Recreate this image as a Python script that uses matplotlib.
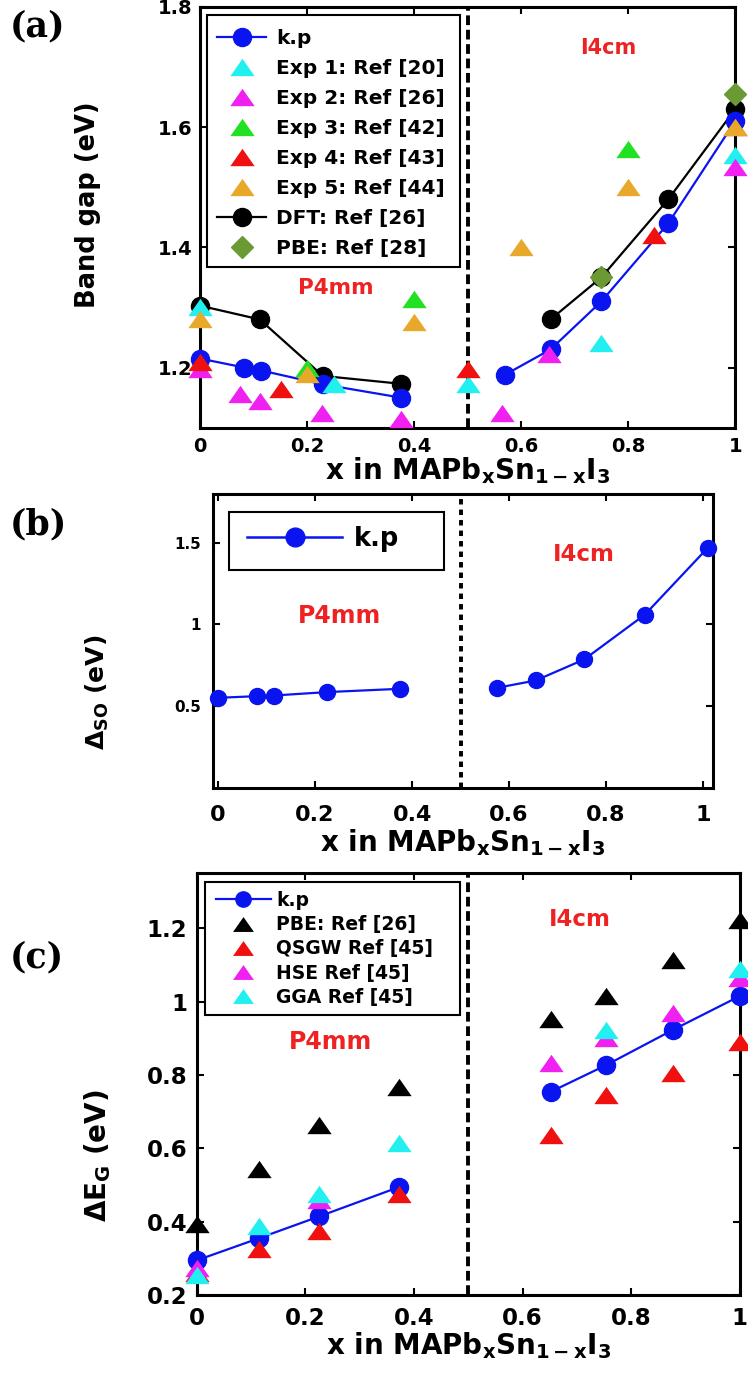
import matplotlib
matplotlib.use('Agg')
import numpy as np
import matplotlib.pyplot as plt
from matplotlib.lines import Line2D
from matplotlib.patches import Rectangle

plt.rcParams['font.family'] = ['DejaVu Sans']
plt.rcParams['font.weight'] = 'bold'
plt.rcParams['mathtext.fontset'] = 'custom'
plt.rcParams['mathtext.rm'] = 'DejaVu Sans'
plt.rcParams['mathtext.bf'] = 'DejaVu Sans:bold'
plt.rcParams['mathtext.it'] = 'DejaVu Sans:bold'
plt.rcParams['mathtext.default'] = 'bf'

# ---- panel (a): band gap ----
kp_a_x = [0, 0.083, 0.115, 0.23, 0.375, 0.57, 0.655, 0.75, 0.875, 1.0]
kp_a_y = [1.215, 1.20, 1.195, 1.172, 1.15, 1.188, 1.23, 1.31, 1.44, 1.61]
dft_x = [0, 0.112, 0.23, 0.375, 0.655, 0.75, 0.875, 1.0]
dft_y = [1.303, 1.28, 1.186, 1.173, 1.28, 1.35, 1.48, 1.63]
exp1_x = [0, 0.25, 0.5, 0.75, 1.0]
exp1_y = [1.30, 1.172, 1.172, 1.24, 1.553]
exp2_x = [0, 0.076, 0.112, 0.228, 0.375, 0.565, 0.652, 1.0]
exp2_y = [1.197, 1.156, 1.144, 1.125, 1.114, 1.125, 1.222, 1.533]
exp3_x = [0.2, 0.4, 0.8]
exp3_y = [1.2, 1.314, 1.564]
exp4_x = [0, 0.152, 0.5, 0.848, 1.0]
exp4_y = [1.21, 1.164, 1.197, 1.42, 1.60]
exp5_x = [0, 0.2, 0.4, 0.6, 0.8, 1.0]
exp5_y = [1.28, 1.19, 1.275, 1.40, 1.50, 1.60]
pbe28_x = [0.75, 1.0]
pbe28_y = [1.35, 1.655]

# ---- panel (b): spin-orbit splitting ----
so_x = [0, 0.08, 0.115, 0.225, 0.375, 0.575, 0.655, 0.755, 0.88, 1.01]
so_y = [0.551, 0.561, 0.565, 0.586, 0.606, 0.612, 0.657, 0.786, 1.06, 1.47]

# ---- panel (c): delta E_G ----
c_x = [0, 0.114, 0.226, 0.373, 0.653, 0.754, 0.877, 1.0]
kp_c = [0.295, 0.355, 0.415, 0.495, 0.755, 0.827, 0.923, 1.015]
pbe_c = [0.395, 0.545, 0.664, 0.768, 0.952, 1.014, 1.114, 1.223]
qsgw_c = [0.26, 0.327, 0.375, 0.477, 0.636, 0.745, 0.806, 0.89]
hse_x = [0, 0.226, 0.653, 0.754, 0.877, 1.0]
hse_c = [0.273, 0.46, 0.832, 0.9, 0.968, 1.064]
gga_x = [0, 0.114, 0.226, 0.373, 0.754, 1.0]
gga_c = [0.255, 0.39, 0.477, 0.614, 0.923, 1.09]

BLUE = '#0a14f0'
CYAN = '#22f0f0'
MAG = '#f020f0'
GREEN = '#22e022'
RED = '#f01010'
ORANGE = '#e8a92a'
OLIVE = '#6b9a34'
TXTRED = '#ee2222'

# MATLAB's up-triangle is wider than it is tall
TRI = [(-1.4, -1), (1.4, -1), (0, 1), (-1.4, -1)]
TRI_MS = 17.5
DOT_MS = 13

xlabel = r'x in MAPb$_\mathbf{x}$Sn$_\mathbf{1-x}$I$_\mathbf{3}$'


def style_axes(ax, tick_fs, xpad, ypad):
    for s in ax.spines.values():
        s.set_linewidth(2.2)
    ax.tick_params(direction='in', top=True, right=True, length=5, width=1.5,
                   labelsize=tick_fs)
    ax.tick_params(axis='x', pad=xpad)
    ax.tick_params(axis='y', pad=ypad)
    for lab in ax.get_xticklabels() + ax.get_yticklabels():
        lab.set_fontweight('bold')


def split_plot(ax, x, y, color, ms, z):
    x = np.array(x)
    y = np.array(y)
    for m in (x < 0.5, x > 0.5):
        ax.plot(x[m], y[m], '-o', color=color, lw=1.6, ms=ms, clip_on=False, zorder=z)


def tri_plot(ax, x, y, color):
    ax.plot(x, y, marker=TRI, ls='none', ms=TRI_MS, color=color, mew=0,
            clip_on=False, zorder=4)


def tri_handle(color, ms=TRI_MS):
    return Line2D([], [], color=color, marker=TRI, ms=ms, mew=0, ls='none')


def legend_box(ax, x0, y0, x1, y1):
    # MATLAB-like legend frame (wide right margin), drawn in axes coords
    r = Rectangle((x0, y0), x1 - x0, y1 - y0, transform=ax.transAxes,
                  facecolor='white', edgecolor='black', lw=1.5, zorder=9)
    ax.add_patch(r)


def fmt(v, pos):
    return ('%g' % v)


fig = plt.figure(figsize=(7.48, 13.75), dpi=100)

# ===== (a) =====
ax = fig.add_axes([0.267, 0.689, 0.716, 0.306])
split_plot(ax, dft_x, dft_y, 'black', DOT_MS, 3)
split_plot(ax, kp_a_x, kp_a_y, BLUE, DOT_MS, 3.5)
tri_plot(ax, exp1_x, exp1_y, CYAN)
tri_plot(ax, exp2_x, exp2_y, MAG)
tri_plot(ax, exp3_x, exp3_y, GREEN)
tri_plot(ax, exp4_x, exp4_y, RED)
tri_plot(ax, exp5_x, exp5_y, ORANGE)
ax.plot(pbe28_x, pbe28_y, 'D', color=OLIVE, ms=11, clip_on=False, zorder=5)
ax.axvline(0.5, color='black', lw=2.8, dashes=(2.5, 1.2), zorder=2)
ax.set_xlim(0, 1)
ax.set_ylim(1.1, 1.8)
ax.set_yticks([1.2, 1.4, 1.6, 1.8])
ax.set_xticks([0, 0.2, 0.4, 0.6, 0.8, 1])
ax.xaxis.set_major_formatter(plt.FuncFormatter(fmt))
ax.set_ylabel('Band gap (eV)', fontsize=18.5, fontweight='bold')
ax.yaxis.set_label_coords(-0.185, 0.53)
ax.set_xlabel(xlabel, fontsize=20, fontweight='bold', labelpad=0)
ax.text(0.254, 1.333, 'P4mm', color=TXTRED, fontsize=15.5, fontweight='bold',
        ha='center', va='center')
ax.text(0.763, 1.731, 'I4cm', color=TXTRED, fontsize=15, fontweight='bold',
        ha='center', va='center')
handles_a = [
    Line2D([], [], color=BLUE, marker='o', ms=DOT_MS, lw=1.6),
    tri_handle(CYAN), tri_handle(MAG), tri_handle(GREEN),
    tri_handle(RED), tri_handle(ORANGE),
    Line2D([], [], color='black', marker='o', ms=DOT_MS, lw=1.6),
    Line2D([], [], color=OLIVE, marker='D', ms=11, ls='none'),
]
labels_a = ['k.p', 'Exp 1: Ref [20]', 'Exp 2: Ref [26]', 'Exp 3: Ref [42]',
            'Exp 4: Ref [43]', 'Exp 5: Ref [44]', 'DFT: Ref [26]', 'PBE: Ref [28]']
legend_box(ax, 0.013, 0.382, 0.486, 0.981)
leg = ax.legend(handles_a, labels_a, loc='upper left', bbox_to_anchor=(0.033, 0.948),
                borderaxespad=0, frameon=False, borderpad=0,
                prop={'size': 14.5, 'weight': 'bold'}, handlelength=2.4,
                labelspacing=0.55, handletextpad=0.5)
leg.set_zorder(10)
style_axes(ax, 14, 6.5, 5.5)

# ===== (b) =====
ax = fig.add_axes([0.285, 0.427, 0.668, 0.214])
split_plot(ax, so_x, so_y, BLUE, 11.5, 3)
ax.axvline(0.5, color='black', lw=2.8, dashes=(1.4, 1.3), zorder=2)
ax.set_xlim(-0.01, 1.02)
ax.set_ylim(0, 1.8)
ax.set_yticks([0.5, 1, 1.5])
ax.set_xticks([0, 0.2, 0.4, 0.6, 0.8, 1])
ax.xaxis.set_major_formatter(plt.FuncFormatter(fmt))
ax.yaxis.set_major_formatter(plt.FuncFormatter(fmt))
ax.set_ylabel(r'$\mathrm{\Delta}_\mathbf{SO}$ (eV)', fontsize=18, fontweight='bold')
ax.yaxis.set_label_coords(-0.205, 0.325)
ax.set_xlabel(xlabel, fontsize=20, fontweight='bold', labelpad=2)
ax.text(0.25, 1.05, 'P4mm', color=TXTRED, fontsize=17, fontweight='bold',
        ha='center', va='center')
ax.text(0.755, 1.43, 'I4cm', color=TXTRED, fontsize=16.5, fontweight='bold',
        ha='center', va='center')
legend_box(ax, 0.032, 0.740, 0.462, 0.937)
leg = ax.legend([Line2D([], [], color=BLUE, marker='o', ms=13.5, lw=1.8)], ['k.p'],
                loc='upper left', bbox_to_anchor=(0.068, 0.889), borderaxespad=0,
                frameon=False, borderpad=0,
                prop={'size': 18.5, 'weight': 'bold'}, handlelength=3.7,
                handletextpad=0.45)
leg.set_zorder(10)
style_axes(ax, 16, 12, 9)
ax.tick_params(axis='y', labelsize=11)

# ===== (c) =====
ax = fig.add_axes([0.263, 0.058, 0.726, 0.307])
split_plot(ax, c_x, kp_c, BLUE, DOT_MS, 3)
tri_plot(ax, c_x, pbe_c, 'black')
tri_plot(ax, c_x, qsgw_c, RED)
tri_plot(ax, hse_x, hse_c, MAG)
tri_plot(ax, gga_x, gga_c, CYAN)
ax.axvline(0.5, color='black', lw=2.8, dashes=(2.5, 1.2), zorder=2)
ax.set_xlim(0, 1)
ax.set_ylim(0.2, 1.35)
ax.set_yticks([0.2, 0.4, 0.6, 0.8, 1, 1.2])
ax.set_xticks([0, 0.2, 0.4, 0.6, 0.8, 1])
ax.xaxis.set_major_formatter(plt.FuncFormatter(fmt))
ax.yaxis.set_major_formatter(plt.FuncFormatter(fmt))
ax.set_ylabel(r'$\mathrm{\Delta}$E$_\mathbf{G}$ (eV)', fontsize=20, fontweight='bold')
ax.yaxis.set_label_coords(-0.155, 0.33)
ax.set_xlabel(xlabel, fontsize=20, fontweight='bold', labelpad=0)
ax.text(0.246, 0.891, 'P4mm', color=TXTRED, fontsize=17, fontweight='bold',
        ha='center', va='center')
ax.text(0.706, 1.223, 'I4cm', color=TXTRED, fontsize=16.5, fontweight='bold',
        ha='center', va='center')
handles_c = [
    Line2D([], [], color=BLUE, marker='o', ms=11, lw=1.6),
    tri_handle('black', 15), tri_handle(RED, 15),
    tri_handle(MAG, 15), tri_handle(CYAN, 15),
]
labels_c = ['k.p', 'PBE: Ref [26]', 'QSGW Ref [45]', 'HSE Ref [45]', 'GGA Ref [45]']
legend_box(ax, 0.015, 0.664, 0.485, 0.979)
leg = ax.legend(handles_c, labels_c, loc='upper left', bbox_to_anchor=(0.036, 0.958),
                borderaxespad=0, frameon=False, borderpad=0,
                prop={'size': 13.5, 'weight': 'bold'}, handlelength=2.9,
                labelspacing=0.28, handletextpad=0.3)
leg.set_zorder(10)
style_axes(ax, 16.5, 8.5, 7)

# panel letters
for lab, y in [('(a)', 0.993), ('(b)', 0.631), ('(c)', 0.316)]:
    fig.text(0.013, y, lab, family=['DejaVu Serif'],
             fontsize=25, fontweight='bold', va='top')

fig.savefig('out.png', dpi=100)
